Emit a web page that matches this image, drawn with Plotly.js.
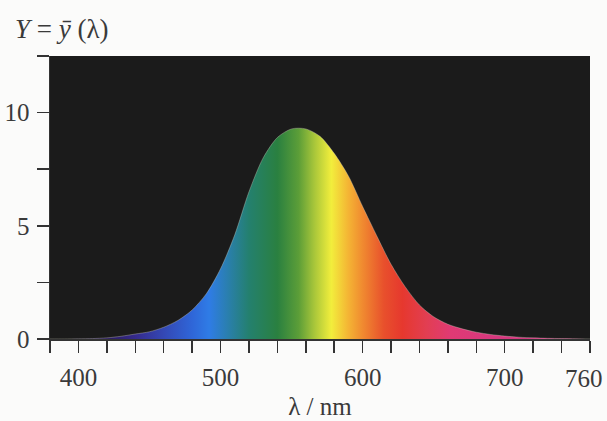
<!DOCTYPE html>
<html>
<head>
<meta charset="utf-8">
<script src="https://cdn.plot.ly/plotly-3.0.1.min.js"></script>
<style>html,body{margin:0;padding:0;background:#fbfbfa;}#chart{width:607px;height:421px;}</style>
</head>
<body>
<div id="chart"></div>
<script>
// wavelength (nm)
var wavelengths = [380,390,400,410,420,430,440,450,460,470,480,490,500,510,520,530,540,550,560,570,580,590,600,610,620,630,640,650,660,670,680,690,700,710,720,730,740,750,760];
// Y = ȳ(λ)
var yValues = [0.0,0.0,0.01,0.02,0.05,0.12,0.22,0.32,0.52,0.82,1.28,2.0,3.1,4.6,6.5,8.0,8.9,9.28,9.28,8.95,8.2,7.2,5.85,4.55,3.3,2.3,1.5,0.98,0.65,0.45,0.3,0.2,0.13,0.08,0.05,0.03,0.02,0.01,0.0];
// spectrum colours along the wavelength axis
var spectrumNm     = [380,420,440,460,480,492,505,520,540,555,566,578,590,600,615,628,645,662,690,760];
var spectrumColors = ['#1e1430','#2a1c5e','#352a8c','#3448b4','#2f66d8','#2f7ce6','#2a7fae','#24806e','#2a8040','#5c9e38','#a8c63a','#f2ee3c','#f4b434','#f08a30','#e8502c','#e6382e','#e23e52','#e03a74','#d8387e','#c83080'];
var xTickVals = [380,400,420,440,460,480,500,520,540,560,580,600,620,640,660,680,700,720,740,760];
var xTickText = ['','400','','','','','500','','','','','600','','','','','700','','',''];
var lastTickVal = 760, lastTickText = '760';   // drawn right-aligned so it stays inside the page
var yTickVals = [0,2.5,5,7.5,10,12.5];
var yTickText = ['0','','5','','10',''];

var xMin = 380, xMax = 760;
var colorscale = spectrumNm.map(function(nm,i){ return [(nm-xMin)/(xMax-xMin), spectrumColors[i]]; });

var trace = {
  x: wavelengths,
  y: yValues,
  type: 'scatter',
  mode: 'lines',
  line: {color: 'rgba(210,210,190,0.45)', width: 0.8, shape: 'spline', smoothing: 0.8},
  fill: 'tozeroy',
  fillgradient: {type: 'horizontal', start: xMin, stop: xMax, colorscale: colorscale},
  hoverinfo: 'skip',
  showlegend: false
};

var fam = '"Liberation Serif", "DejaVu Serif", serif';
var font = {family: fam, size: 25, color: '#3a3a3a'};

var layout = {
  width: 607, height: 421,
  margin: {l: 50, r: 17, t: 56, b: 82},
  paper_bgcolor: '#fbfbfa',
  plot_bgcolor: '#1b1b1b',
  font: font,
  xaxis: {
    range: [xMin, xMax],
    tickmode: 'array', tickvals: xTickVals, ticktext: xTickText,
    ticks: 'outside', ticklen: 12, tickwidth: 1.5, tickcolor: '#333',
    showline: true, linecolor: '#333', linewidth: 1.5,
    showgrid: false, zeroline: false,
    tickfont: font, ticklabelstandoff: 3,
    title: {text: 'λ / nm', font: {family: fam, size: 25, color: '#3a3a3a'}, standoff: 8}
  },
  yaxis: {
    range: [0, 12.5],
    tickmode: 'array', tickvals: yTickVals, ticktext: yTickText,
    ticks: 'outside', ticklen: 12, tickwidth: 1.5, tickcolor: '#333',
    showline: true, linecolor: '#333', linewidth: 1.5,
    showgrid: false, zeroline: false,
    tickfont: font, ticklabelstandoff: 2
  },
  annotations: [{
    xref: 'paper', yref: 'paper', x: -0.068, y: 1.0, yshift: 27,
    xanchor: 'left', yanchor: 'middle', showarrow: false,
    text: '<i>Y</i> = <i>ȳ</i> (λ)',
    font: {family: fam, size: 27, color: '#3a3a3a'}
  }, {
    xref: 'x', yref: 'paper', x: lastTickVal, y: 0, xshift: 15, yshift: -39,
    xanchor: 'right', yanchor: 'middle', showarrow: false,
    text: lastTickText, font: font
  }]
};

Plotly.newPlot('chart', [trace], layout, {displayModeBar: false, staticPlot: true});
</script>
</body>
</html>
